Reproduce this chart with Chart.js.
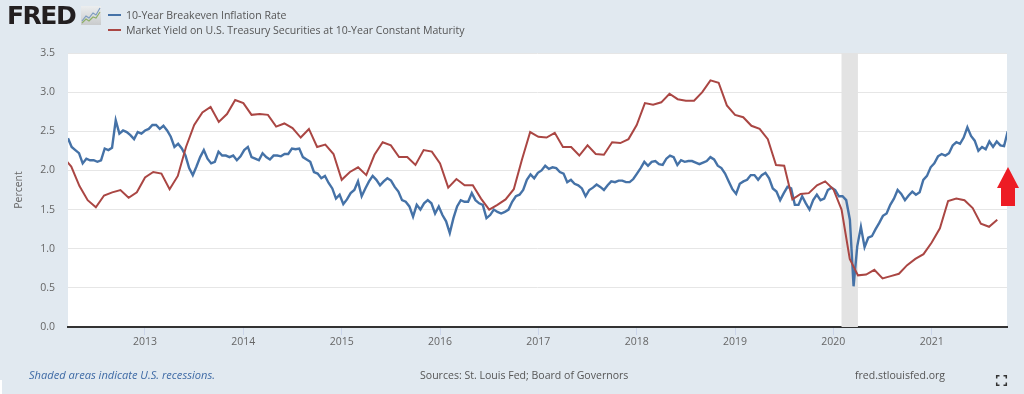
<!DOCTYPE html>
<html>
<head>
<meta charset="utf-8">
<script src="https://cdn.jsdelivr.net/npm/chart.js@4"></script>
<style>
html,body{margin:0;padding:0;background:#e1e9f0;width:1024px;height:394px;overflow:hidden}
#wrap{position:relative;width:1024px;height:394px;font-family:"Open Sans",sans-serif}
canvas{position:absolute;left:0;top:0}
.t{position:absolute;white-space:nowrap;color:#555;font-size:10.55px;line-height:14px}
.sw{position:absolute;width:13px;height:2px}
svg{position:absolute;overflow:visible}
</style>
</head>
<body>
<div id="wrap">
<canvas id="c" width="1024" height="394"></canvas>
<div class="t" style="left:7px;top:1px;font:bold 25px/30px 'DejaVu Sans',sans-serif;letter-spacing:-1.5px;color:#231f20">FRED</div>
<svg style="left:81px;top:6px" width="20" height="19" viewBox="0 0 20 19">
<defs><linearGradient id="lg" x1="0" y1="0" x2="0" y2="1"><stop offset="0" stop-color="#eceeef"/><stop offset="1" stop-color="#c9cbcc"/></linearGradient></defs>
<rect width="20" height="19" fill="url(#lg)"/>
<polyline points="1,15 5,10 8,12 12,7 15,9 19,2" fill="none" stroke="#7d9cc0" stroke-width="1.2"/>
<polyline points="1,17 5,13 8,15 12,11 15,12 19,6" fill="none" stroke="#8fb06a" stroke-width="1.2"/>
</svg>
<div class="sw" style="left:108px;top:14px;background:#4572a7"></div>
<div class="t" style="left:126px;top:8px">10-Year Breakeven Inflation Rate</div>
<div class="sw" style="left:108px;top:29px;background:#aa4643"></div>
<div class="t" style="left:126px;top:23px">Market Yield on U.S. Treasury Securities at 10-Year Constant Maturity</div>
<div class="t" style="left:29px;top:368px;font-size:11.1px;font-style:italic;color:#3e6aa5">Shaded areas indicate U.S. recessions.</div>
<div class="t" style="left:420px;top:368px">Sources: St. Louis Fed; Board of Governors</div>
<div class="t" style="left:855px;top:368px">fred.stlouisfed.org</div>
<svg style="left:996px;top:375px" width="11" height="11" viewBox="0 0 11 11">
<path d="M0.7 3.5V0.7H3.5M7.5 0.7H10.3V3.5M10.3 7.5V10.3H7.5M3.5 10.3H0.7V7.5" fill="none" stroke="#333" stroke-width="1.5"/>
</svg>
<svg style="left:997px;top:167px" width="22" height="39" viewBox="0 0 22 39">
<polygon points="11,0 22,21 18,21 18,39 4,39 4,21 0,21" fill="#ed1c24"/>
</svg>
<div style="position:absolute;left:0;top:380px;width:2px;height:14px;background:#fff"></div>
</div>
<script>
const xTickYears = [2013,2014,2015,2016,2017,2018,2019,2020,2021];
const yTickValues = [0,0.5,1,1.5,2,2.5,3,3.5];
const xMin = 2012.217, xMax = 2021.766;
const recessionStart = 2020.083, recessionEnd = 2020.25;

const yieldStart = 2012.167; // March 2012, one value per month
const treasuryYield = [
2.17,2.05,1.80,1.62,1.53,1.68,1.72,1.75,1.65,1.72,
1.91,1.98,1.96,1.76,1.93,2.30,2.58,2.74,2.81,2.62,2.72,2.90,
2.86,2.71,2.72,2.71,2.56,2.60,2.54,2.42,2.53,2.30,2.33,2.21,
1.88,1.98,2.04,1.94,2.20,2.36,2.32,2.17,2.17,2.07,2.26,2.24,
2.09,1.78,1.89,1.81,1.81,1.64,1.50,1.56,1.63,1.76,2.14,2.49,
2.43,2.42,2.48,2.30,2.30,2.19,2.32,2.21,2.20,2.36,2.35,2.40,
2.58,2.86,2.84,2.87,2.98,2.91,2.89,2.89,3.00,3.15,3.12,2.83,
2.71,2.68,2.57,2.53,2.40,2.07,2.06,1.63,1.70,1.71,1.81,1.86,
1.76,1.50,0.87,0.66,0.67,0.73,0.62,0.65,0.68,0.79,0.87,0.93,
1.08,1.26,1.61,1.64,1.62,1.52,1.32,1.28,1.37];

const breakevenStart = 2012.217, breakevenStepYears = 0.03733; // sampled about every two weeks
const breakeven = [
2.41,2.30,2.26,2.22,2.09,2.15,2.13,2.13,2.11,2.13,2.28,2.26,2.29,2.64,2.47,2.51,2.49,2.45,2.40,2.49,2.47,2.51,2.53,2.58,2.58,2.53,2.57,2.51,2.43,2.30,2.34,2.28,2.19,2.03,1.94,2.05,2.17,2.26,2.15,2.09,2.11,2.24,2.19,
2.19,2.17,2.19,2.13,2.18,2.26,2.30,2.17,2.15,2.13,2.22,2.17,2.14,2.19,2.19,2.18,2.21,2.21,2.28,2.27,2.28,2.17,2.14,2.11,1.98,1.96,1.90,1.93,1.84,1.77,1.64,1.69,1.57,1.63,1.71,1.75,1.86,1.67,1.77,1.86,1.93,1.88,1.81,1.86,
1.90,1.87,1.79,1.73,1.62,1.60,1.54,1.41,1.56,1.50,1.58,1.62,1.58,1.45,1.54,1.43,1.35,1.20,1.39,1.54,1.62,1.60,1.60,1.71,1.62,1.58,1.56,1.39,1.43,1.50,1.47,1.45,1.47,1.50,1.60,1.67,1.69,1.75,1.88,1.95,1.90,1.97,2.00,
2.06,2.02,2.04,2.03,1.98,1.96,1.85,1.88,1.83,1.81,1.77,1.67,1.75,1.78,1.82,1.79,1.75,1.81,1.86,1.85,1.87,1.87,1.85,1.85,1.89,1.96,2.03,2.11,2.06,2.11,2.12,2.08,2.07,2.15,2.19,2.17,2.07,2.13,2.11,2.12,2.12,2.10,2.08,2.10,
2.12,2.17,2.14,2.06,2.03,1.96,1.86,1.76,1.70,1.83,1.86,1.88,1.94,1.94,1.88,1.94,1.97,1.90,1.77,1.73,1.62,1.71,1.79,1.77,1.56,1.56,1.67,1.58,1.50,1.62,1.69,1.62,1.64,1.75,1.78,1.75,1.67,1.67,1.62,1.37,
0.52,1.03,1.28,1.02,1.14,1.16,1.25,1.33,1.42,1.45,1.56,1.64,1.75,1.70,1.62,1.68,1.73,1.69,1.72,1.88,1.93,2.04,2.09,2.18,2.21,2.19,2.22,2.32,2.36,2.34,2.42,2.55,2.44,2.38,2.25,2.30,2.27,2.37,2.30,2.37,2.32,2.31,2.50];

const yieldPoints = treasuryYield.map((v,i)=>({x:yieldStart+i/12,y:v}));
const breakevenPoints = breakeven.map((v,i)=>({x:breakevenStart+i*breakevenStepYears,y:v}));

const paintPlot = {
  id:'paintPlot',
  beforeDraw(ch){
    const a=ch.chartArea, g=ch.ctx;
    g.save(); g.fillStyle='#fff'; g.fillRect(a.left,a.top,a.right-a.left,a.bottom-a.top); g.restore();
  },
  beforeDatasetsDraw(ch){
    const a=ch.chartArea, g=ch.ctx, x=ch.scales.x;
    g.save(); g.fillStyle='#e3e3e3';
    g.fillRect(x.getPixelForValue(recessionStart),a.top,x.getPixelForValue(recessionEnd)-x.getPixelForValue(recessionStart),a.bottom-a.top);
    g.restore();
  }
};

new Chart(document.getElementById('c'),{
  type:'line',
  data:{datasets:[
    {label:'10-Year Breakeven Inflation Rate',data:breakevenPoints,borderColor:'#4572a7',borderWidth:2.4,pointRadius:0,tension:0,order:2},
    {label:'Market Yield on U.S. Treasury Securities at 10-Year Constant Maturity',data:yieldPoints,borderColor:'#aa4643',borderWidth:2,pointRadius:0,tension:0,order:1}
  ]},
  options:{
    responsive:false,animation:false,
    layout:{padding:{top:53,right:17,left:0,bottom:0}},
    plugins:{legend:{display:false},title:{display:false},tooltip:{enabled:false}},
    scales:{
      x:{type:'linear',min:xMin,max:xMax,
        afterBuildTicks(s){s.ticks=xTickYears.map(v=>({value:v}));},
        afterFit(s){s.height=67;},
        grid:{drawOnChartArea:false,drawTicks:true,tickLength:8,color:'#ccd6eb'},
        border:{display:true,color:'#333',width:2},
        ticks:{maxRotation:0,autoSkip:false,padding:1,color:'#666',font:{family:'Open Sans',size:10.5},callback:v=>String(v)}
      },
      y:{min:0,max:3.5,
        afterBuildTicks(s){s.ticks=yTickValues.map(v=>({value:v}));},
        afterFit(s){s.width=68;},
        title:{display:false},
        grid:{color:'#e6e6e6',lineWidth:1,drawTicks:false},
        border:{display:false},
        ticks:{padding:13,color:'#666',font:{family:'Open Sans',size:10.5},callback:v=>v.toFixed(1)}
      }
    }
  },
  plugins:[paintPlot,{
    id:'yAxisName',
    afterDraw(ch){
      const g=ch.ctx; g.save(); g.translate(19,190); g.rotate(-Math.PI/2);
      g.fillStyle='#666'; g.font='10.5px "Open Sans"'; g.textAlign='center'; g.textBaseline='middle';
      g.fillText('Percent',0,0); g.restore();
    }
  }]
});
</script>
</body>
</html>
